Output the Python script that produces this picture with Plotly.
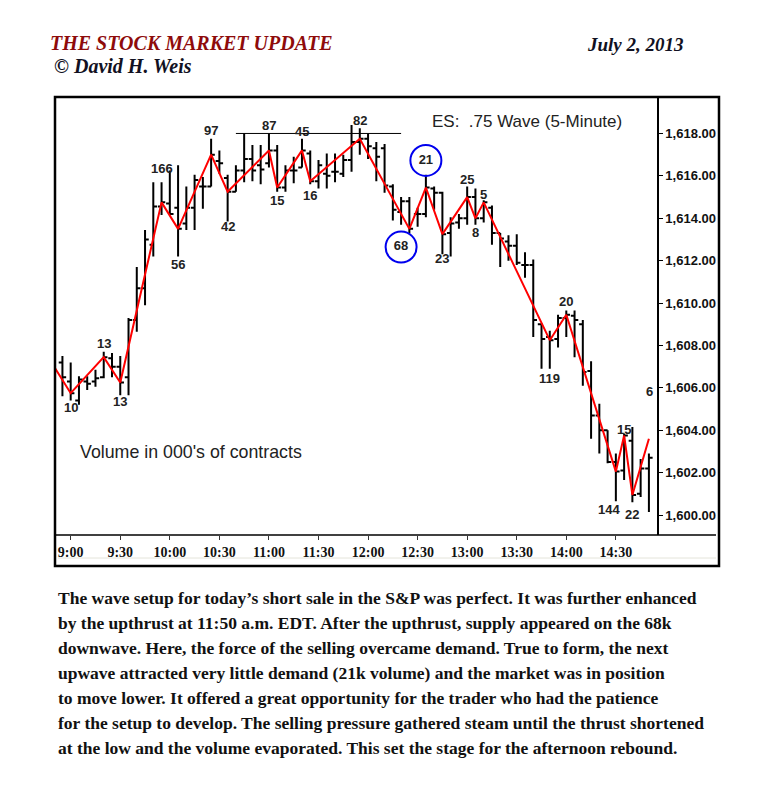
import plotly.graph_objects as go

# ---------------------------------------------------------------------------
# DATA
# ---------------------------------------------------------------------------

DAY = '2013-07-02'

BAR_TIMES = [
    '08:55', '09:00', '09:05', '09:10', '09:15', '09:20', '09:25', '09:30',
    '09:35', '09:40', '09:45', '09:50', '09:55', '10:00', '10:05', '10:10',
    '10:15', '10:20', '10:25', '10:30', '10:35', '10:40', '10:45', '10:50',
    '10:55', '11:00', '11:05', '11:10', '11:15', '11:20', '11:25', '11:30',
    '11:35', '11:40', '11:45', '11:50', '11:55', '12:00', '12:05', '12:10',
    '12:15', '12:20', '12:25', '12:30', '12:35', '12:40', '12:45', '12:50',
    '12:55', '13:00', '13:05', '13:10', '13:15', '13:20', '13:25', '13:30',
    '13:35', '13:40', '13:45', '13:50', '13:55', '14:00', '14:05', '14:10',
    '14:15', '14:20', '14:25', '14:30', '14:35', '14:40', '14:45', '14:50',
]

OPEN = [
    1607.2, 1606.3, 1605.4, 1606.3, 1606.3, 1606.5, 1607.4, 1607.0,
    1606.5, 1609.2, 1610.7, 1612.75, 1614.55, 1614.7, 1614.5, 1613.75,
    1614.5, 1615.5, 1615.5, 1616.7, 1615.9, 1615.25, 1616.25, 1616.8,
    1616.5, 1616.6, 1617.2, 1615.45, 1616.25, 1616.4, 1617.05, 1615.75,
    1616.1, 1616.2, 1616.1, 1616.75, 1617.6, 1617.75, 1617.3, 1617.3,
    1615.5, 1614.3, 1614.8, 1614.2, 1614.2, 1615.4, 1615.2, 1613.3,
    1613.8, 1614.0, 1615.0, 1614.0, 1614.5, 1613.3, 1612.9, 1612.7,
    1611.8, 1611.8, 1609.0, 1608.4, 1608.3, 1609.3, 1609.4, 1609.0,
    1606.8, 1604.7, 1604.0, 1602.5, 1602.1, 1603.5, 1601.0, 1602.2,
]

HIGH = [
    1607.5, 1607.2, 1606.55, 1606.55, 1606.85, 1607.7, 1607.65, 1607.5,
    1609.3, 1611.7, 1613.45, 1615.7, 1615.7, 1616.25, 1616.5, 1615.5,
    1616.05, 1615.95, 1617.75, 1617.2, 1616.05, 1616.5, 1618.0, 1617.45,
    1617.45, 1618.0, 1617.45, 1616.5, 1616.9, 1617.75, 1617.2, 1616.75,
    1617.05, 1617.05, 1617.0, 1618.4, 1618.25, 1618.0, 1617.6, 1617.5,
    1615.6, 1615.0, 1615.0, 1614.5, 1616.05, 1615.5, 1615.25, 1614.05,
    1614.2, 1615.5, 1615.4, 1614.85, 1614.6, 1613.3, 1613.2, 1613.25,
    1612.4, 1612.05, 1609.05, 1608.7, 1609.45, 1609.65, 1609.65, 1609.2,
    1607.25, 1605.25, 1604.0, 1602.9, 1603.85, 1604.15, 1602.65, 1602.9,
]

LOW = [
    1605.6, 1605.4, 1605.2, 1605.9, 1606.05, 1606.45, 1606.5, 1605.65,
    1605.65, 1608.65, 1609.9, 1612.2, 1614.15, 1614.15, 1612.2, 1613.45,
    1613.45, 1614.45, 1615.5, 1616.1, 1613.85, 1615.25, 1615.7, 1615.75,
    1615.6, 1616.4, 1615.25, 1615.25, 1615.65, 1616.4, 1615.6, 1615.4,
    1615.4, 1615.7, 1615.95, 1616.2, 1617.0, 1616.8, 1615.75, 1615.2,
    1613.9, 1613.7, 1613.3, 1613.6, 1614.05, 1614.4, 1612.3, 1612.2,
    1613.5, 1613.7, 1613.7, 1613.8, 1612.75, 1611.7, 1612.0, 1611.8,
    1611.2, 1608.4, 1606.9, 1606.9, 1607.9, 1608.4, 1607.45, 1606.1,
    1603.6, 1602.9, 1602.45, 1600.65, 1601.65, 1600.6, 1600.85, 1600.15,
]

CLOSE = [
    1606.5, 1605.75, 1606.4, 1606.2, 1606.45, 1607.45, 1607.0, 1606.25,
    1609.2, 1610.7, 1613.0, 1614.55, 1614.75, 1614.2, 1613.5, 1614.5,
    1615.8, 1615.5, 1617.0, 1616.6, 1615.25, 1616.25, 1616.8, 1616.25,
    1616.3, 1617.2, 1615.45, 1616.25, 1616.25, 1617.2, 1615.75, 1616.5,
    1616.0, 1616.2, 1616.75, 1617.6, 1617.75, 1617.4, 1616.9, 1615.55,
    1614.4, 1614.8, 1613.5, 1614.2, 1615.45, 1615.2, 1613.25, 1613.75,
    1614.0, 1615.0, 1614.0, 1614.75, 1613.3, 1613.05, 1612.7, 1611.9,
    1611.8, 1609.2, 1608.3, 1608.25, 1609.3, 1609.45, 1609.2, 1606.75,
    1604.7, 1604.0, 1602.5, 1602.05, 1603.75, 1600.95, 1602.2, 1602.7,
]

# red wave line (swing points)
WAVE_TIMES = [
    '08:50', '09:00', '09:20', '09:30', '09:55', '10:05', '10:25', '10:35',
    '11:00', '11:05', '11:20', '11:25', '11:55', '12:25', '12:35', '12:45',
    '13:00', '13:05', '13:10', '13:50', '14:00', '14:30', '14:35', '14:40',
    '14:50',
]
WAVE_PRICES = [
    1607.0, 1605.75, 1607.45, 1606.25, 1614.75, 1613.5, 1617.0, 1615.25,
    1617.2, 1615.45, 1617.2, 1615.75, 1617.75, 1613.5, 1615.45, 1613.25,
    1615.0, 1614.0, 1614.75, 1608.25, 1609.45, 1602.05, 1603.75, 1600.95,
    1603.6,
]

# wave volumes (000's of contracts)
VOL_TEXT = ['10', '13', '13', '166', '56', '97', '42', '87', '15', '45', '16',
            '82', '23', '25', '8', '5', '119', '20', '144', '15', '22']
VOL_TIMES = ['09:00', '09:20', '09:30', '09:55', '10:05', '10:25', '10:35',
             '11:00', '11:05', '11:20', '11:25', '11:55', '12:45', '13:00',
             '13:05', '13:10', '13:50', '14:00', '14:26', '14:35', '14:40']
VOL_PRICES = [1605.09, 1608.07, 1605.35, 1616.33, 1611.84, 1618.16, 1613.61,
              1618.38, 1614.86, 1618.11, 1615.09, 1618.63, 1612.12, 1615.83,
              1613.35, 1615.14, 1606.46, 1610.08, 1600.28, 1604.06, 1600.05]

CIRCLE_TEXT = ['68', '21']
CIRCLE_TIMES = ['12:20', '12:35']
CIRCLE_PRICES = [1612.64, 1616.73]

RESIST_TIMES = ['10:40', '12:20']
RESIST_PRICE = 1618.0

Y_TICKS = [1600, 1602, 1604, 1606, 1608, 1610, 1612, 1614, 1616, 1618]
X_TICK_TIMES = ['09:00', '09:30', '10:00', '10:30', '11:00', '11:30',
                '12:00', '12:30', '13:00', '13:30', '14:00', '14:30']
X_TICK_LABELS = ['9:00', '9:30', '10:00', '10:30', '11:00', '11:30',
                 '12:00', '12:30', '13:00', '13:30', '14:00', '14:30']

BODY_LINES = [
    'The wave setup for today\u2019s short sale in the S&P was perfect. It was further enhanced',
    'by the upthrust at 11:50 a.m. EDT. After the upthrust, supply appeared on the 68k',
    'downwave. Here, the force of the selling overcame demand. True to form, the next',
    'upwave attracted very little demand (21k volume) and the market was in position',
    'to move lower. It offered a great opportunity for the trader who had the patience',
    'for the setup to develop. The selling pressure gathered steam until the thrust shortened',
    'at the low and the volume evaporated. This set the stage for the afternoon rebound.',
]


# ---------------------------------------------------------------------------
# LAYOUT HELPERS (page pixels -> paper coordinates of the plot area)
# ---------------------------------------------------------------------------

BODY_MARGIN = 8          # default page margin around the plot div
W, H = 760 - 2 * BODY_MARGIN, 794 - 2 * BODY_MARGIN
PL, PR, PT, PB = 55, 657, 97, 535     # plot area in page pixels


def px_x(px):
    return (px - PL) / (PR - PL)


def px_y(py):
    return (PB - py) / (PB - PT)


def ts(t):
    return f'{DAY} {t}'


SANS = 'Arial, Liberation Sans, sans-serif'
SERIF = 'Times New Roman, Liberation Serif, serif'

fig = go.Figure()

fig.add_trace(go.Ohlc(
    x=[ts(t) for t in BAR_TIMES],
    open=OPEN, high=HIGH, low=LOW, close=CLOSE,
    increasing=dict(line=dict(color='black', width=2)),
    decreasing=dict(line=dict(color='black', width=2)),
    tickwidth=0.45,
    showlegend=False, hoverinfo='skip',
))

fig.add_trace(go.Scatter(
    x=[ts(t) for t in RESIST_TIMES],
    y=[RESIST_PRICE] * len(RESIST_TIMES),
    mode='lines', line=dict(color='black', width=1),
    showlegend=False, hoverinfo='skip',
))

fig.add_trace(go.Scatter(
    x=[ts(t) for t in WAVE_TIMES], y=WAVE_PRICES,
    mode='lines', line=dict(color='#ff0000', width=2),
    showlegend=False, hoverinfo='skip',
))

fig.add_trace(go.Scatter(
    x=[ts(t) for t in CIRCLE_TIMES], y=CIRCLE_PRICES,
    mode='markers+text', text=CIRCLE_TEXT, textposition='middle center',
    textfont=dict(family=SANS, size=13, color='#222222', weight='bold'),
    marker=dict(symbol='circle-open', size=31, color='#0000ee',
                line=dict(width=2, color='#0000ee')),
    showlegend=False, hoverinfo='skip',
))

annotations = []
for t, p, txt in zip(VOL_TIMES, VOL_PRICES, VOL_TEXT):
    annotations.append(dict(
        x=ts(t), y=p, xref='x', yref='y', text=txt, showarrow=False,
        xanchor='center', yanchor='middle',
        font=dict(family=SANS, size=13, color='#222222', weight='bold'),
    ))

# clipped label near the price axis
annotations.append(dict(
    x=px_x(655), y=px_y(391), xref='paper', yref='paper', text='6',
    showarrow=False, xanchor='right', yanchor='middle',
    font=dict(family=SANS, size=13, color='#222222', weight='bold'),
))

annotations += [
    dict(x=px_x(527), y=px_y(121), text='ES:\u00a0 .75 Wave (5-Minute)',
         xanchor='center', font=dict(family=SANS, size=17, color='#222222')),
    dict(x=px_x(78), y=px_y(452), text="Volume in 000's of contracts",
         xanchor='left', font=dict(family=SANS, size=17.8, color='#222222')),
    dict(x=px_x(48), y=px_y(43), text='THE STOCK MARKET UPDATE',
         xanchor='left',
         font=dict(family=SERIF, size=20, color='#8e0b0b',
                   weight='bold', style='italic')),
    dict(x=px_x(52), y=px_y(66), text='\u00a9 David H. Weis',
         xanchor='left',
         font=dict(family=SERIF, size=20, color='#111122',
                   weight='bold', style='italic')),
    dict(x=px_x(686), y=px_y(44), text='July 2, 2013',
         xanchor='right',
         font=dict(family=SERIF, size=19, color='#111122',
                   weight='bold', style='italic')),
]
for a in annotations[-5:]:
    a.update(xref='paper', yref='paper', showarrow=False, yanchor='middle')

for k, line in enumerate(BODY_LINES):
    annotations.append(dict(
        x=px_x(56), y=px_y(598 + 25 * k), xref='paper', yref='paper',
        text=line, showarrow=False, xanchor='left', yanchor='middle',
        font=dict(family=SERIF, size=17.5, color='#111111', weight='bold'),
    ))

shapes = [
    # outer frame around chart and time strip
    dict(type='rect', xref='paper', yref='paper',
         x0=0, x1=px_x(719), y0=px_y(566), y1=1,
         line=dict(color='black', width=2.5)),
    # separator between plot and time axis strip
    dict(type='line', xref='paper', yref='paper',
         x0=0, x1=px_x(716), y0=0, y1=0,
         line=dict(color='black', width=1.5)),
    # faint line at the bottom of the time strip
    dict(type='line', xref='paper', yref='paper',
         x0=px_x(58), x1=px_x(716), y0=px_y(558), y1=px_y(558),
         line=dict(color='#e4e4da', width=1)),
]

fig.update_layout(
    width=W, height=H,
    margin=dict(l=PL - BODY_MARGIN, r=BODY_MARGIN + W - PR,
                t=PT - BODY_MARGIN, b=BODY_MARGIN + H - PB),
    paper_bgcolor='white', plot_bgcolor='white',
    showlegend=False,
    annotations=annotations,
    shapes=shapes,
    xaxis=dict(
        type='date',
        range=[ts('08:50:30'), ts('14:54:54')],
        tickvals=[ts(t) for t in X_TICK_TIMES],
        ticktext=X_TICK_LABELS,
        ticks='outside', ticklen=4, tickcolor='#333333', tickwidth=1,
        tickfont=dict(family=SERIF, size=14, color='#111111', weight='bold'),
        showgrid=False, zeroline=False, showline=False,
        rangeslider=dict(visible=False),
    ),
    yaxis=dict(
        side='right',
        range=[1599.06, 1619.72],
        tickvals=Y_TICKS,
        tickformat=',.2f',
        ticks='outside', ticklen=4, tickcolor='black', tickwidth=1,
        tickfont=dict(family=SANS, size=13, color='#111111', weight='bold'),
        showgrid=False, zeroline=False,
        showline=True, linecolor='black', linewidth=1.5,
    ),
)

fig.write_html('out.html')
